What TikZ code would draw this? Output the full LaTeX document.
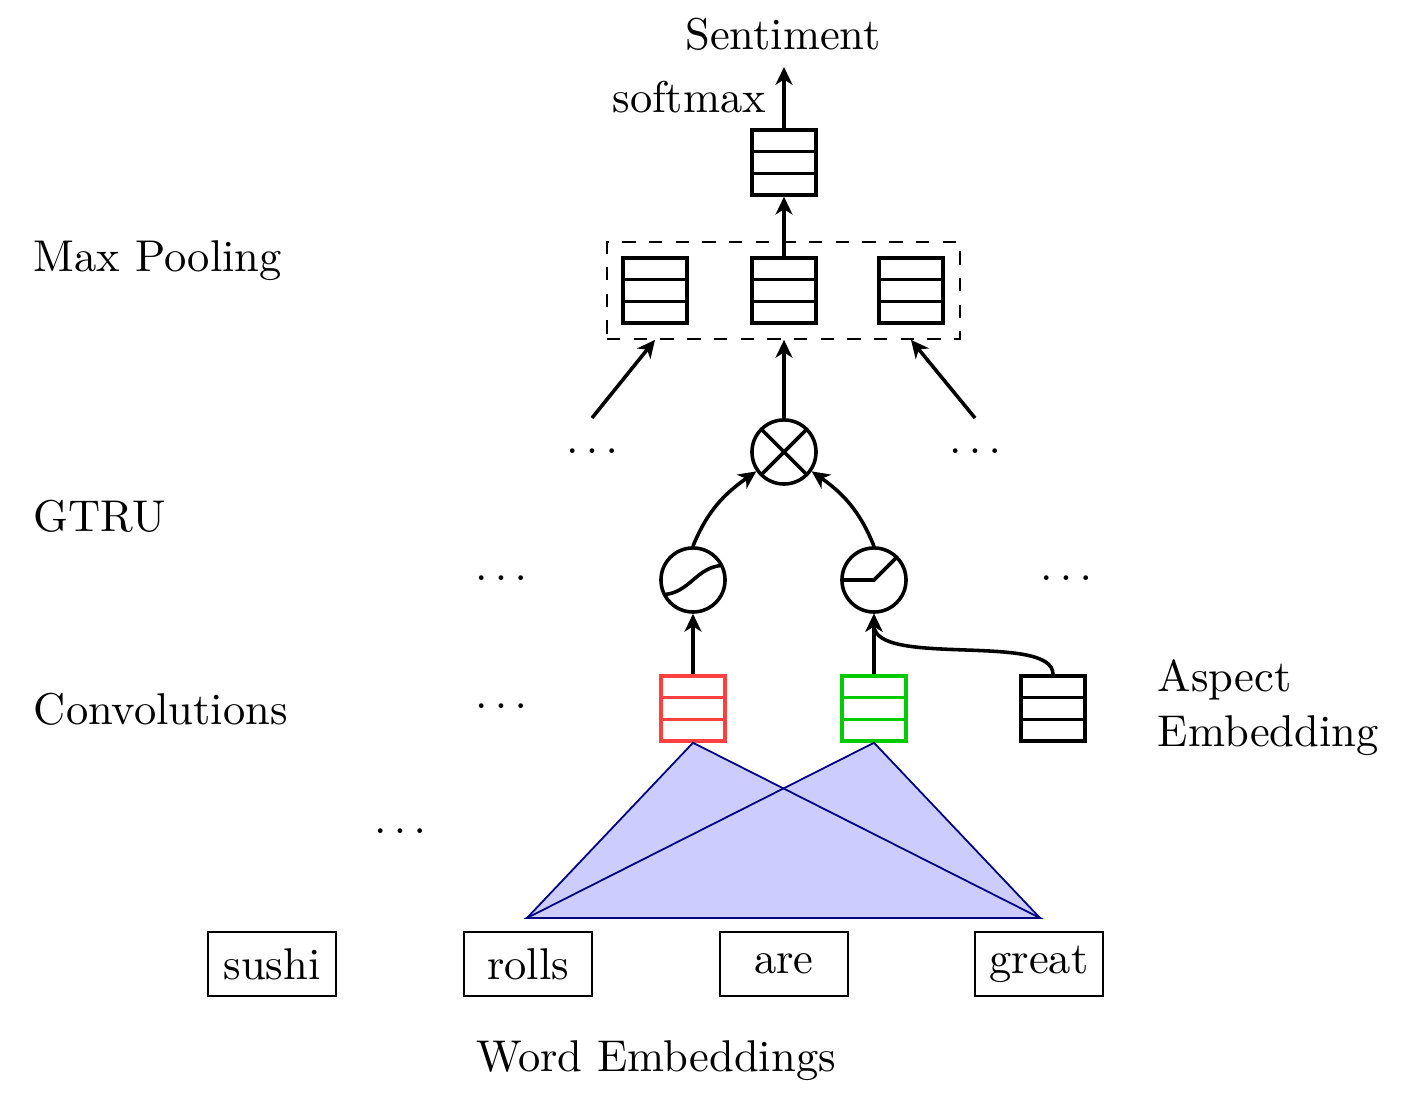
\documentclass[tikz,border=0pt]{standalone}
\usetikzlibrary{arrows.meta}
\begin{document}
\begin{tikzpicture}[x=0.2247pt,y=-0.2247pt,
  cell/.style={draw=#1, thick, minimum width=14.4pt, minimum height=14.6pt, inner sep=0pt,
    path picture={\draw[#1,thick]
      ([yshift=2.43pt]path picture bounding box.west) -- ([yshift=2.43pt]path picture bounding box.east)
      ([yshift=-2.43pt]path picture bounding box.west) -- ([yshift=-2.43pt]path picture bounding box.east);}},
  cell/.default=black,
  op/.style={circle, draw, thick, minimum size=14.4pt, inner sep=0pt},
  mult/.style={op, path picture={\draw[thick]
      (path picture bounding box.north west) -- (path picture bounding box.south east)
      (path picture bounding box.north east) -- (path picture bounding box.south west);}},
  sigm/.style={op, path picture={\draw[thick]
      ([shift={(-7.2pt,-3.3pt)}]path picture bounding box.center)
      .. controls ([shift={(-0.6pt,-3.3pt)}]path picture bounding box.center)
      and ([shift={(0.6pt,3.3pt)}]path picture bounding box.center)
      .. ([shift={(7.2pt,3.3pt)}]path picture bounding box.center);}},
  relu/.style={op, path picture={\draw[thick]
      ([shift={(-7.2pt,0pt)}]path picture bounding box.center)
      -- (path picture bounding box.center)
      -- ([shift={(7.2pt,7.2pt)}]path picture bounding box.center);}},
  word/.style={draw, semithick, minimum width=28.8pt, minimum height=14.4pt, inner sep=0pt},
  lbl/.style={anchor=base west, inner sep=0pt},
  dts/.style={anchor=base, inner sep=0pt},
  arr/.style={thick, -{Stealth[length=4pt, width=3.8pt, inset=1.2pt]}},
  tri/.style={draw={rgb,255:red,0;green,0;blue,128}, thin},
  trifill/.style={fill=blue!20}
]
\useasboundingbox (0,0) rectangle (1421,1099);

% labels
\node[lbl] (lmax) at (33,272) {Max Pooling};
\node[lbl] (lgtru) at (33,532) {GTRU};
\node[lbl] (lconv) at (33,725) {Convolutions};
\node[anchor=base, inner sep=0pt] (lsent) at (783,50) {Sentiment};
\node[anchor=base east, inner sep=0pt] (lsoft) at (767,113) {softmax};
\node[anchor=base, inner sep=0pt] (lword) at (656,1072) {Word Embeddings};
\node[lbl] (lasp1) at (1157,692) {Aspect};
\node[lbl] (lasp2) at (1157,747) {Embedding};

% top
\node[cell] (t) at (784,162.5) {};
\coordinate (out) at (784,67);
\draw[arr] (t) -- (out);

% pooling
\node[cell] (p1) at (655,290.5) {};
\node[cell] (p2) at (784,290.5) {};
\node[cell] (p3) at (911,290.5) {};
\node[draw, dashed, minimum width=79.3pt, minimum height=21.8pt, inner sep=0pt] (pool) at (783.5,290.5) {};
\draw[arr] (p2) -- (t);

% multiplication
\node[mult] (m) at (784,452) {};
\draw[arr] (m) -- (pool.south -| m);
\node[dts] (d1) at (592,454) {$\dots$};
\node[dts] (d2) at (975,454) {$\dots$};
\coordinate (d1s) at (592,418);
\coordinate (d2s) at (975,418);
\draw[arr] (d1s) -- (pool.south -| p1);
\draw[arr] (d2s) -- (pool.south -| p3);

% gates
\node[sigm] (s1) at (693,580) {};
\node[relu] (s2) at (874,580) {};
\draw[arr] (s1.north) to[out=68, in=215] (m);
\draw[arr] (s2.north) to[out=112, in=-35] (m);
\node[dts] (d3) at (501,581) {$\dots$};
\node[dts] (d4) at (1066,581) {$\dots$};

% convolutions
\node[cell=red!75] (c1) at (693,708.5) {};
\node[cell=green!80!black] (c2) at (874,708.5) {};
\node[cell] (a) at (1053,708.5) {};
\draw[arr] (c1) -- (s1);
\draw[arr] (c2) -- (s2);
\draw[arr] (a.north) .. controls (1053,632) and (874,668) .. (s2.south);
\node[dts] (d5) at (501,709) {$\dots$};
\node[dts] (d6) at (400,834) {$\dots$};

% triangles
\coordinate (bl) at (527,918);
\coordinate (br) at (1040,918);
\fill[trifill] (c1.south) -- (bl) -- (br) -- cycle;
\fill[trifill] (c2.south) -- (bl) -- (br) -- cycle;
\draw[tri] (c1.south) -- (bl) -- (br) -- cycle;
\draw[tri] (c2.south) -- (bl) -- (br) -- cycle;

% words
\node[word] (w1) at (272,964) {sushi};
\node[word] (w2) at (528,964) {rolls};
\node[word] (w3) at (784,964) {are};
\node[word] (w4) at (1039,964) {great};
\end{tikzpicture}
\end{document}
